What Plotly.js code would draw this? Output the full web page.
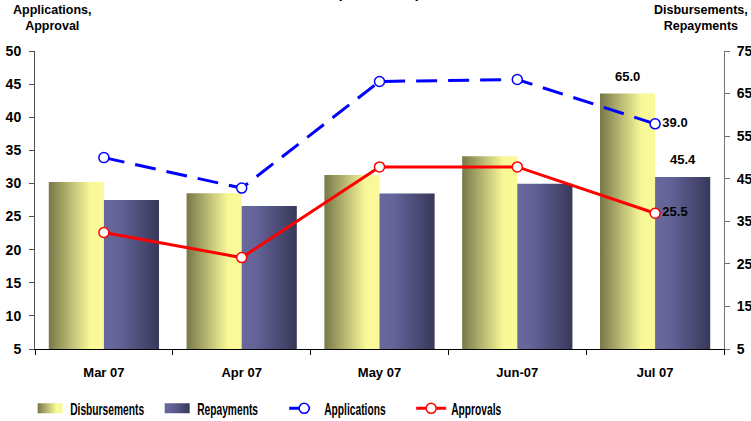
<!DOCTYPE html>
<html>
<head>
<meta charset="utf-8">
<script src="https://cdn.plot.ly/plotly-3.0.1.min.js"></script>
<style>
  html, body { margin: 0; padding: 0; background: #ffffff; }
  #chart { width: 751px; height: 421px; }
</style>
</head>
<body>
<div id="chart"></div>
<script>
// Monthly figures
const months = ['Mar 07', 'Apr 07', 'May 07', 'Jun-07', 'Jul 07'];
const disbursements = [44.2, 41.6, 45.9, 50.3, 65.0];
const repayments = [40.0, 38.6, 41.5, 43.8, 45.4];
const applications = [33.9, 29.3, 45.4, 45.7, 39.0];
const approvals = [22.6, 18.8, 32.5, 32.5, 25.5];

const FONT = 'Liberation Sans, Arial, Helvetica, sans-serif';
const last = months.length - 1;
const lastOnly = arr => arr.map((v, i) => (i === last ? v.toFixed(1) : ''));

const bold = size => ({ family: FONT, size: size, color: '#000000', weight: 700 });

const traces = [
  {
    type: 'bar', name: 'Disbursements', x: months, y: disbursements, yaxis: 'y',
    marker: { color: '#c8c878', line: { width: 0 } }, hoverinfo: 'skip'
  },
  {
    type: 'bar', name: 'Repayments', x: months, y: repayments, yaxis: 'y',
    marker: { color: '#55557a', line: { width: 0 } }, hoverinfo: 'skip'
  },
  {
    type: 'scatter', mode: 'lines+markers+text', name: 'Applications', x: months, y: applications, yaxis: 'y2',
    line: { color: '#0000ff', width: 3, dash: '21px,11px' },
    marker: { symbol: 'circle', size: 10, color: '#ffffff', line: { color: '#0000ff', width: 1.5 } },
    text: lastOnly(applications), textposition: 'middle right', textfont: bold(13),
    cliponaxis: false, hoverinfo: 'skip'
  },
  {
    type: 'scatter', mode: 'lines+markers+text', name: 'Approvals', x: months, y: approvals, yaxis: 'y2',
    line: { color: '#ff0000', width: 3 },
    marker: { symbol: 'circle', size: 10, color: '#ffffff', line: { color: '#ff0000', width: 1.5 } },
    text: lastOnly(approvals), textposition: 'middle right', textfont: bold(13),
    cliponaxis: false, hoverinfo: 'skip'
  }
];

// value labels above the July bars
const barLabels = [
  { series: disbursements, shift: -27.7 },
  { series: repayments, shift: 27.7 }
].map(b => ({
  x: months[last], y: b.series[last], xref: 'x', yref: 'y',
  text: b.series[last].toFixed(1), showarrow: false,
  xshift: b.shift, yanchor: 'bottom', yshift: 8, font: bold(13)
}));

const layout = {
  width: 751, height: 421,
  margin: { l: 35, r: 27, t: 51, b: 72, autoexpand: false },
  paper_bgcolor: '#ffffff', plot_bgcolor: '#ffffff',
  font: { family: FONT, color: '#000000' },
  barmode: 'group', bargap: 0.2, bargroupgap: 0,
  showlegend: true,
  legend: {
    orientation: 'h', x: -0.007, xanchor: 'left', y: -0.2, yanchor: 'middle',
    font: bold(16.5), entrywidth: 82, entrywidthmode: 'pixels',
    bgcolor: 'rgba(0,0,0,0)', traceorder: 'normal'
  },
  xaxis: {
    type: 'category', showline: true, linecolor: '#000000', linewidth: 1,
    ticks: 'outside', tickson: 'boundaries', ticklen: 5, tickcolor: '#000000',
    tickfont: bold(13), ticklabelstandoff: 11, showgrid: false, zeroline: false, fixedrange: true
  },
  yaxis: {
    side: 'right', range: [5, 75], tick0: 5, dtick: 10,
    showline: true, linecolor: '#707070', linewidth: 1,
    ticks: 'outside', ticklen: 5, tickcolor: '#707070',
    tickfont: bold(14), ticklabelstandoff: 4, showgrid: false, zeroline: false, fixedrange: true
  },
  yaxis2: {
    overlaying: 'y', side: 'left', range: [5, 50], tick0: 5, dtick: 5,
    showline: true, linecolor: '#505050', linewidth: 1,
    ticks: 'outside', ticklen: 5, tickcolor: '#505050',
    tickfont: bold(14), ticklabelstandoff: 5, showgrid: false, zeroline: false, fixedrange: true
  },
  annotations: barLabels.concat([
    {
      text: 'Applications,<br>Approval', xref: 'paper', yref: 'paper',
      x: 0.025, y: 1.0, xanchor: 'center', yanchor: 'bottom', yshift: 16,
      showarrow: false, align: 'center', font: bold(12.5)
    },
    {
      text: 'Disbursements,<br>Repayments', xref: 'paper', yref: 'paper',
      x: 0.967, y: 1.0, xanchor: 'center', yanchor: 'bottom', yshift: 16,
      showarrow: false, align: 'center', font: bold(12.5)
    },
    {
      text: '(Rs. Billion)', xref: 'paper', yref: 'paper',
      x: 0.498, y: 1.0, xanchor: 'center', yanchor: 'bottom', yshift: 48,
      showarrow: false, font: bold(15)
    }
  ])
};

const gd = document.getElementById('chart');

// Horizontal shaded fills for the bars and their legend swatches
function addGradient(defs, id, stops) {
  if (document.getElementById(id)) return;
  const ns = 'http://www.w3.org/2000/svg';
  const g = document.createElementNS(ns, 'linearGradient');
  g.setAttribute('id', id);
  g.setAttribute('x1', '0'); g.setAttribute('y1', '0');
  g.setAttribute('x2', '1'); g.setAttribute('y2', '0');
  stops.forEach(([off, col]) => {
    const s = document.createElementNS(ns, 'stop');
    s.setAttribute('offset', off);
    s.setAttribute('stop-color', col);
    g.appendChild(s);
  });
  defs.appendChild(g);
}

function shadeBars() {
  const svg = gd.querySelector('svg.main-svg');
  if (!svg) return;
  let defs = svg.querySelector('defs');
  if (!defs) {
    defs = document.createElementNS('http://www.w3.org/2000/svg', 'defs');
    svg.insertBefore(defs, svg.firstChild);
  }
  addGradient(defs, 'shadeDisb', [['0', '#777749'], ['0.45', '#c5c57a'], ['0.75', '#f8f896'], ['1', '#fafa9c']]);
  addGradient(defs, 'shadeRep', [['0', '#68689c'], ['0.25', '#64649a'], ['1', '#38385a']]);
  const fills = ['url(#shadeDisb)', 'url(#shadeRep)'];
  gd.querySelectorAll('.barlayer .trace').forEach((t, i) => {
    if (fills[i]) t.querySelectorAll('path').forEach(p => { p.style.fill = fills[i]; });
  });
  gd.querySelectorAll('.legend .traces').forEach((t, i) => {
    if (fills[i]) {
      t.querySelectorAll('.legendpoints path').forEach(p => {
        p.setAttribute('d', 'M12.5,5H-12.5V-5H12.5Z');
        p.style.fill = fills[i];
        p.style.stroke = 'none';
      });
    }
    // condensed legend lettering
    const txt = t.querySelector('text.legendtext');
    if (txt && !txt.hasAttribute('textLength')) {
      const w = txt.getComputedTextLength();
      txt.setAttribute('textLength', (w * 0.62).toFixed(1));
      txt.setAttribute('lengthAdjust', 'spacingAndGlyphs');
    }
  });
}

Plotly.newPlot(gd, traces, layout, { displayModeBar: false, staticPlot: true }).then(() => {
  shadeBars();
  gd.on('plotly_afterplot', shadeBars);
});
</script>
</body>
</html>
